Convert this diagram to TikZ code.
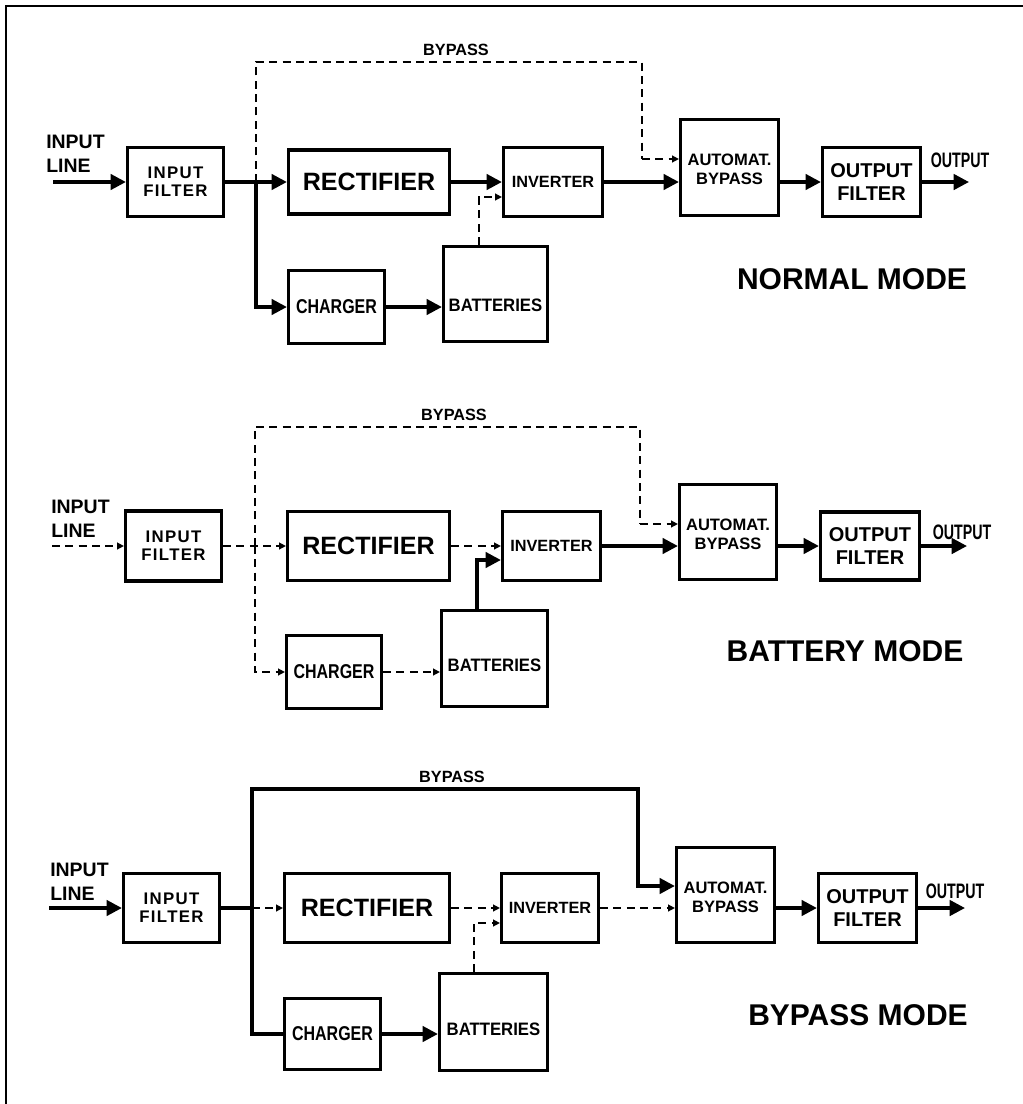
\documentclass[tikz,border=0pt]{standalone}
\usepackage{fontspec}
\usepackage{graphicx}
\setmainfont{Liberation Sans}
\usetikzlibrary{arrows.meta}
\newcommand\lblfont{\bfseries\fontsize{14.6pt}{18pt}\selectfont}
\newcommand\filtfont{\bfseries\fontsize{12.6pt}{13.5pt}\selectfont\addfontfeature{LetterSpace=8}}
\newcommand\rectfont{\bfseries\fontsize{18.8pt}{20pt}\selectfont}
\newcommand\invfont{\bfseries\fontsize{12.2pt}{14pt}\selectfont}
\newcommand\abfont{\bfseries\fontsize{12.4pt}{14.3pt}\selectfont}
\newcommand\offont{\bfseries\fontsize{15pt}{17pt}\selectfont}
\newcommand\outfont{\bfseries\fontsize{15.7pt}{17pt}\selectfont}
\newcommand\chfont{\bfseries\fontsize{15pt}{17pt}\selectfont}
\newcommand\batfont{\bfseries\fontsize{13.5pt}{15pt}\selectfont}
\newcommand\bplfont{\bfseries\fontsize{12.2pt}{14pt}\selectfont}
\newcommand\modefont{\bfseries\fontsize{22.5pt}{26pt}\selectfont}
\newcommand\OUTtxt{\scalebox{0.68}[1]{OUTPUT}}
\newcommand\CHtxt{\scalebox{0.8}[1]{CHARGER}}
\newcommand\BATtxt[1]{\raisebox{#1}[\height][\depth]{\scalebox{0.93}[1]{BATTERIES}}}
\newcommand\ABtxt{\raisebox{-3pt}[\height][\depth]{\def\arraystretch{1}\begin{tabular}{@{}c@{}}AUTOMAT.\\BYPASS\end{tabular}}}
\tikzset{
  bx/.style 2 args={draw, line width=2.4pt, inner sep=0pt, align=center,
    minimum width=(#1-3)*0.75pt, minimum height=(#2-3)*0.75pt},
  sline/.style={line width=2.6pt},
  main/.style={sline, -{Triangle[length=11.5pt,width=11.5pt]}},
  dline/.style={line width=1.1pt, dash pattern=on 6pt off 4pt},
  darr/.style={dline, -{Triangle[length=5pt,width=5pt]}},
  lbl/.style={inner sep=0pt, align=left, anchor=base west, font=\lblfont},
  txt/.style={inner sep=0pt},
}
\begin{document}
\begin{tikzpicture}[x=0.75pt,y=-0.75pt]
\useasboundingbox (0,0) rectangle (1023,1104);
\draw[line width=1.9pt] (1023,6) -- (6,6) -- (6,1104);

% ================= NORMAL MODE =================
\node[lbl] (lblT) at (46,172) {INPUT\\LINE};
\coordinate (inT) at (53,182);
\node[bx={99}{72}, font=\filtfont] (ifT) at (175.5,182) {INPUT\\FILTER};
\node[bx={164}{67}, font=\rectfont] (recT) at (369,182) {RECTIFIER};
\node[bx={102}{72}, font=\invfont] (invT) at (553,182) {INVERTER};
\node[bx={101}{99}, font=\abfont] (abT) at (729.5,167.5) {\ABtxt};
\node[bx={101}{72}, font=\offont] (ofT) at (871.5,182) {OUTPUT\\FILTER};
\node[bx={99}{76}, font=\chfont] (chT) at (336.5,307) {\CHtxt};
\node[bx={107}{98}, font=\batfont] (batT) at (495.5,294) {\BATtxt{-8.25pt}};
\coordinate (jT) at (256,182);
\coordinate (bpT) at (642,62);
\coordinate (beT) at (642,159);
\coordinate (bfT) at (479,197);
\coordinate (oT) at (969,182);
\node[txt, font=\bplfont] (bplT) at (456,50) {BYPASS};
\node[txt, font=\outfont] (outT) at (960,160) {\OUTtxt};
\node[txt, font=\modefont] (modeT) at (852,279) {NORMAL MODE};
\draw[main] (inT) -- (ifT.west);
\draw[main] (ifT.east) -- (recT.west);
\draw[main] (jT) |- (chT.west);
\draw[dline] (jT) |- (bpT) -- (beT);
\draw[darr] (beT) -- (beT -| abT.west);
\draw[main] (recT.east) -- (invT.west);
\draw[main] (invT.east) -- (invT.east -| abT.west);
\draw[main] (ofT.west -| abT.east) -- (ofT.west);
\draw[main] (ofT.east) -- (oT);
\draw[main] (chT.east) -- (chT.east -| batT.west);
\draw[darr] (batT.north -| bfT) -- (bfT) -- (bfT -| invT.west);

% ================= BATTERY MODE =================
\node[lbl] (lblB) at (51,537) {INPUT\\LINE};
\coordinate (inB) at (52,546);
\node[bx={99}{73}, font=\filtfont] (ifB) at (173.5,546) {INPUT\\FILTER};
\node[bx={165}{72}, font=\rectfont] (recB) at (368.5,546) {RECTIFIER};
\node[bx={101}{72}, font=\invfont] (invB) at (551.5,546) {INVERTER};
\node[bx={100}{98}, font=\abfont] (abB) at (728,532) {\ABtxt};
\node[bx={102}{71}, font=\offont] (ofB) at (870,546) {OUTPUT\\FILTER};
\node[bx={98}{76}, font=\chfont] (chB) at (334,672) {\CHtxt};
\node[bx={109}{99}, font=\batfont] (batB) at (494.5,658.5) {\BATtxt{-4.9pt}};
\coordinate (jB) at (255,546);
\coordinate (bpB) at (640,427);
\coordinate (beB) at (640,524);
\coordinate (bfB) at (477,560);
\coordinate (oB) at (967,546);
\node[txt, font=\bplfont] (bplB) at (454,415) {BYPASS};
\node[txt, font=\outfont] (outB) at (962,532) {\OUTtxt};
\node[txt, font=\modefont] (modeB) at (845,651) {BATTERY MODE};
\draw[darr] (inB) -- (ifB.west);
\draw[darr] (ifB.east) -- (recB.west);
\draw[darr] (jB) |- (chB.west);
\draw[dline] (jB) |- (bpB) -- (beB);
\draw[darr] (beB) -- (beB -| abB.west);
\draw[darr] (recB.east) -- (invB.west);
\draw[main] (invB.east) -- (invB.east -| abB.west);
\draw[main] (ofB.west -| abB.east) -- (ofB.west);
\draw[main] (ofB.east) -- (oB);
\draw[darr] (chB.east) -- (chB.east -| batB.west);
\draw[main] (batB.north -| bfB) -- (bfB) -- (bfB -| invB.west);

% ================= BYPASS MODE =================
\node[lbl] (lblC) at (50,900) {INPUT\\LINE};
\coordinate (inC) at (49,908);
\node[bx={99}{72}, font=\filtfont] (ifC) at (171.5,908) {INPUT\\FILTER};
\node[bx={168}{72}, font=\rectfont] (recC) at (367,908) {RECTIFIER};
\node[bx={100}{72}, font=\invfont] (invC) at (550,908) {INVERTER};
\node[bx={101}{98}, font=\abfont] (abC) at (725.5,895) {\ABtxt};
\node[bx={101}{72}, font=\offont] (ofC) at (867.5,908) {OUTPUT\\FILTER};
\node[bx={99}{74}, font=\chfont] (chC) at (332.5,1034) {\CHtxt};
\node[bx={111}{100}, font=\batfont] (batC) at (493.5,1022) {\BATtxt{-5.25pt}};
\coordinate (jC) at (252,908);
\coordinate (bpC) at (638,789);
\coordinate (beC) at (638,886);
\coordinate (bfC) at (474,923);
\coordinate (oC) at (965,908);
\node[txt, font=\bplfont] (bplC) at (452,777) {BYPASS};
\node[txt, font=\outfont] (outC) at (955,891) {\OUTtxt};
\node[txt, font=\modefont] (modeC) at (858,1015) {BYPASS MODE};
\draw[main] (inC) -- (ifC.west);
\draw[sline] (ifC.east) -- (jC);
\draw[darr] (jC) -- (recC.west);
\draw[sline] (jC) |- (chC.west);
\draw[main] (jC) |- (bpC) -- (beC) -- (beC -| abC.west);
\draw[darr] (recC.east) -- (invC.west);
\draw[darr] (invC.east) -- (invC.east -| abC.west);
\draw[main] (ofC.west -| abC.east) -- (ofC.west);
\draw[main] (ofC.east) -- (oC);
\draw[main] (chC.east) -- (chC.east -| batC.west);
\draw[darr] (batC.north -| bfC) -- (bfC) -- (bfC -| invC.west);
\end{tikzpicture}
\end{document}
